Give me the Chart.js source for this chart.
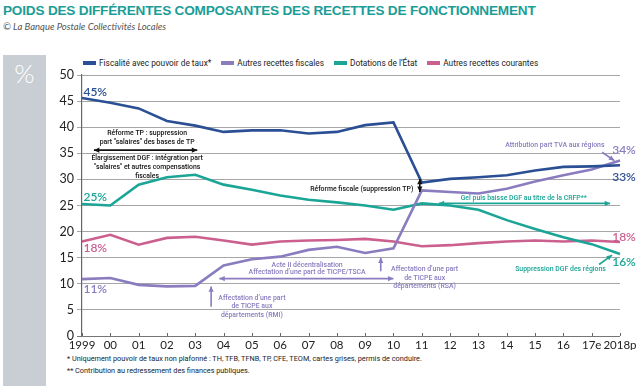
<!DOCTYPE html>
<html>
<head>
<meta charset="utf-8">
<script src="https://cdn.jsdelivr.net/npm/chart.js@4.4.1/dist/chart.umd.min.js"></script>
<style>
  html, body { margin: 0; padding: 0; background: #fff; }
  #wrap { position: relative; width: 640px; height: 390px; overflow: hidden; font-family: Roboto, "Liberation Sans", sans-serif; }
  #title { position: absolute; left: 3px; top: 3px; font: bold 13.6px "Liberation Sans", Arial, sans-serif; color: #1b9d98; letter-spacing: -0.2px; white-space: nowrap; }
  #sub { position: absolute; left: 3px; top: 21px; font: italic 9.5px Lato, sans-serif; color: #555; white-space: nowrap; }
  #panel { position: absolute; left: 3px; top: 55px; width: 43px; height: 331px; background: #c9ced4; }
  #pct { position: absolute; left: 0; top: 2px; width: 43px; text-align: center; color: #fff; font: 300 26px Lato, sans-serif; }
  #legend { position: absolute; left: 83px; top: 58px; font: 8.3px Roboto, sans-serif; color: #222; white-space: nowrap; }
  #legend span.it { display: inline-block; margin-right: 10px; }
  #legend i { display: inline-block; width: 13px; height: 4px; margin-right: 3px; vertical-align: 1px; }
  .foot { position: absolute; left: 67px; font: 7.3px Roboto, sans-serif; color: #222; white-space: nowrap; }
  canvas { position: absolute; left: 0; top: 0; }
</style>
</head>
<body>
<div id="wrap">
  <div id="title">POIDS DES DIFFÉRENTES COMPOSANTES DES RECETTES DE FONCTIONNEMENT</div>
  <div id="sub">© La Banque Postale Collectivités Locales</div>
  <div id="panel"><div id="pct">%</div></div>
  <div id="legend"></div>
  <div class="foot" style="top:354px">* Uniquement pouvoir de taux non plafonné : TH, TFB, TFNB, TP, CFE, TEOM, cartes grises, permis de conduire.</div>
  <div class="foot" style="top:366px">** Contribution au redressement des finances publiques.</div>
  <canvas id="c" width="640" height="390"></canvas>
</div>
<script>
// --- data ---
const years = ['1999', '00', '01', '02', '03', '04', '05', '06', '07', '08', '09', '10', '11', '12', '13', '14', '15', '16', '17e', '2018p'];
const yTicks = [0, 5, 10, 15, 20, 25, 30, 35, 40, 45, 50];

const fiscalite       = [45.6, 44.7, 43.6, 41.2, 40.3, 39.1, 39.4, 39.4, 38.8, 39.1, 40.4, 40.9, 29.4, 30.1, 30.4, 30.8, 31.7, 32.4, 32.5, 32.7];
const autresFiscales  = [10.9, 11.1, 9.8, 9.5, 9.6, 13.5, 14.7, 15.2, 16.5, 17.1, 15.9, 16.8, 27.9, 27.6, 27.3, 28.2, 29.6, 30.8, 31.9, 33.6];
const dotations       = [25.3, 25.0, 29.0, 30.4, 30.9, 29.0, 28.0, 26.9, 26.1, 25.6, 25.0, 24.2, 25.4, 25.0, 24.2, 22.2, 20.5, 18.9, 17.6, 15.7];
const autresCourantes = [18.1, 19.4, 17.5, 18.8, 19.0, 18.3, 17.5, 18.1, 18.3, 18.4, 18.6, 18.1, 17.2, 17.4, 17.8, 18.1, 18.3, 18.1, 18.3, 18.0];

const seriesNames = ['Fiscalité avec pouvoir de taux*', 'Autres recettes fiscales', 'Dotations de l\u2019État', 'Autres recettes courantes'];
const startLabels = ['45%', '11%', '25%', '18%'];
const endLabels   = ['33%', '34%', '16%', '18%'];

const BLUE = '#2b4f94', PURPLE = '#8a7cbe', TEAL = '#1ba597', PINK = '#cb5f8e';
const colors = [BLUE, PURPLE, TEAL, PINK];
const allSeries = [fiscalite, autresFiscales, dotations, autresCourantes];

// legend
document.getElementById('legend').innerHTML = seriesNames.map((n, i) =>
  `<span class="it"><i style="background:${colors[i]}"></i>${n}</span>`).join('');

// label positions: [x index, y value] (data space)
const startPos = [[0.05, 46.8], [0.05, 9.0], [0.05, 26.6], [0.05, 16.8]];
const endPos   = [[30.4], [35.6], [14.2], [18.9]];

// annotations: text lines, x index of centre, y value of first line, line step (value units)
const notes = [
  { lines: ['Réforme TP : suppression', 'part "salaires" des bases de TP'], x: 2.3, y: 38.8, step: 1.6, color: '#111', align: 'center' },
  { lines: ['Élargissement DGF : intégration part', '"salaires" et autres compensations', 'fiscales'], x: 2.3, y: 34.0, step: 1.7, color: '#111', align: 'center' },
  { lines: ['Réforme fiscale (suppression TP)'], x: 11.7, y: 28.1, step: 0, color: '#111', align: 'right' },
  { lines: ['Gel puis baisse DGF au titre de la CRFP**'], x: 15.6, y: 26.3, step: 0, color: TEAL, align: 'center' },
  { lines: ['Attribution part TVA aux régions'], x: 16.7, y: 36.6, step: 0, color: PURPLE, align: 'center' },
  { lines: ['Suppression DGF des régions'], x: 16.9, y: 12.7, step: 0, color: TEAL, align: 'center' },
  { lines: ['Acte II décentralisation', 'Affectation d\u2019une part de TICPE/TSCA'], x: 7.95, y: 13.6, step: 1.45, color: PURPLE, align: 'center' },
  { lines: ['Affectation d\u2019une part', 'de TICPE aux', 'départements (RMI)'], x: 6.0, y: 7.3, step: 1.7, color: PURPLE, align: 'center' },
  { lines: ['Affectation d\u2019une part', 'de TICPE aux', 'départements (RSA)'], x: 12.1, y: 12.7, step: 1.6, color: PURPLE, align: 'center' },
];

// arrows: from [x, y] to [x, y] in data space, double-headed or not
const arrows = [
  { from: [0.42, 35.6], to: [4.07, 35.6], both: true, color: '#111' },
  { from: [11.93, 27.6], to: [11.93, 30.1], both: true, color: '#111' },
  { from: [12.6, 25.4], to: [18.65, 25.4], both: true, color: TEAL },
  { from: [18.37, 35.2], to: [18.8, 33.6], both: false, color: PURPLE },
  { from: [18.26, 13.7], to: [18.72, 15.5], both: false, color: TEAL },
  { from: [4.85, 11.0], to: [11.0, 11.0], both: true, color: PURPLE },
  { from: [4.56, 5.6], to: [4.56, 9.5], both: false, color: PURPLE },
  { from: [10.55, 12.4], to: [10.55, 15.0], both: false, color: PURPLE },
];

function arrowHead(ctx, x1, y1, x2, y2, size) {
  const a = Math.atan2(y2 - y1, x2 - x1);
  ctx.beginPath();
  ctx.moveTo(x2, y2);
  ctx.lineTo(x2 - size * Math.cos(a - 0.45), y2 - size * Math.sin(a - 0.45));
  ctx.lineTo(x2 - size * Math.cos(a + 0.45), y2 - size * Math.sin(a + 0.45));
  ctx.closePath();
  ctx.fill();
}

const overlay = {
  id: 'overlay',
  afterDatasetsDraw(chart) {
    const { ctx } = chart;
    const xs = chart.scales.x, ys = chart.scales.y;
    const px = v => xs.left + (xs.right - xs.left) * v / (years.length - 1);
    ctx.save();
    // small category ticks above the axis line
    ctx.strokeStyle = '#666'; ctx.lineWidth = 1;
    years.forEach((_, i) => {
      const x = Math.round(xs.getPixelForValue(i)) + 0.5;
      ctx.beginPath(); ctx.moveTo(x, ys.bottom); ctx.lineTo(x, ys.bottom - 3); ctx.stroke();
    });
    // start / end percent labels
    ctx.font = '600 12px Lato, sans-serif';
    ctx.textBaseline = 'middle';
    startPos.forEach(([x, y], i) => {
      ctx.fillStyle = colors[i];
      ctx.textAlign = 'left';
      ctx.fillText(startLabels[i], px(x), ys.getPixelForValue(y));
    });
    endPos.forEach(([y], i) => {
      ctx.fillStyle = colors[i];
      ctx.textAlign = 'center';
      ctx.fillText(endLabels[i], px(years.length - 1) + 4, ys.getPixelForValue(y));
    });
    // annotation texts
    ctx.font = '500 6.9px Roboto, sans-serif';
    notes.forEach(n => {
      ctx.fillStyle = n.color;
      ctx.textAlign = n.align;
      n.lines.forEach((t, k) => ctx.fillText(t, px(n.x), ys.getPixelForValue(n.y - k * n.step)));
    });
    // arrows
    arrows.forEach(a => {
      const x1 = px(a.from[0]), y1 = ys.getPixelForValue(a.from[1]);
      const x2 = px(a.to[0]), y2 = ys.getPixelForValue(a.to[1]);
      ctx.strokeStyle = a.color; ctx.fillStyle = a.color; ctx.lineWidth = 1.6;
      ctx.beginPath(); ctx.moveTo(x1, y1); ctx.lineTo(x2, y2); ctx.stroke();
      arrowHead(ctx, x1, y1, x2, y2, 6);
      if (a.both) arrowHead(ctx, x2, y2, x1, y1, 6);
    });
    ctx.restore();
  }
};

new Chart(document.getElementById('c'), {
  type: 'line',
  data: {
    labels: years,
    datasets: allSeries.map((d, i) => ({
      label: seriesNames[i],
      data: d,
      borderColor: colors[i],
      backgroundColor: colors[i],
      borderWidth: 2.6,
      pointRadius: 0,
      tension: 0,
    })),
  },
  options: {
    responsive: false,
    animation: false,
    devicePixelRatio: 1,
    layout: { padding: { left: 46, top: 75, right: 20, bottom: 40 } },
    plugins: { legend: { display: false }, tooltip: { enabled: false } },
    scales: {
      x: {
        offset: false,
        grid: { display: false, drawTicks: false },
        border: { display: false },
        afterFit: s => { s.height = 14; },
        ticks: { color: '#222', font: { size: 11.5, family: 'Lato' }, maxRotation: 0, autoSkip: false, padding: 2 },
      },
      y: {
        min: 0, max: 50,
        afterFit: s => { s.width = 36; },
        afterBuildTicks: s => { s.ticks = yTicks.map(v => ({ value: v })); },
        grid: { color: c => (c.tick && c.tick.value === 0 ? '#666' : '#9c9c9c'), lineWidth: 0.9, tickLength: 5 },
        border: { color: '#666', width: 1.2 },
        ticks: { color: '#222', font: { size: 12.5, family: 'Lato' }, padding: 3 },
      },
    },
  },
  plugins: [overlay],
});
</script>
</body>
</html>
